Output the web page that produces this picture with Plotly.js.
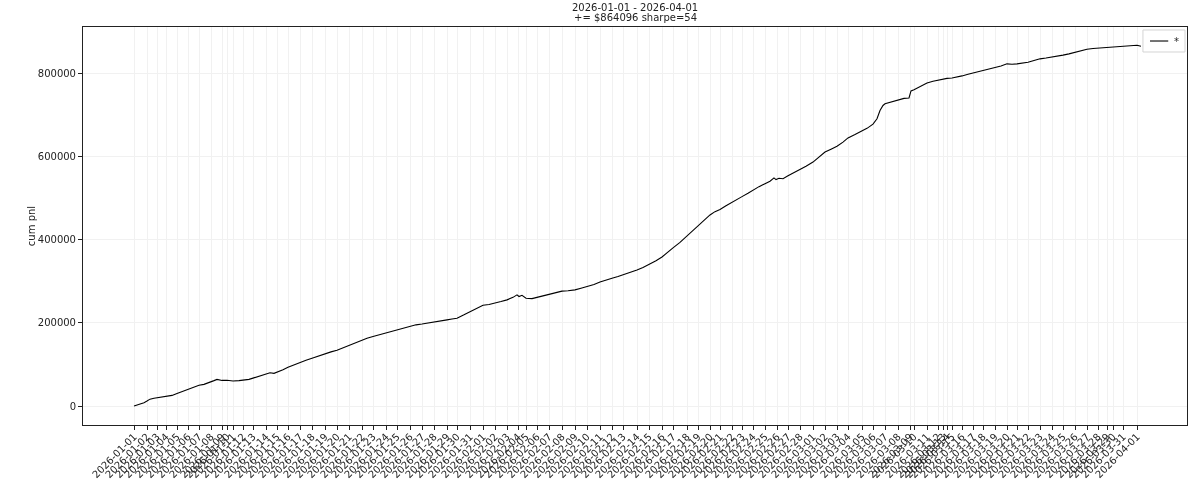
<!DOCTYPE html>
<html>
<head>
<meta charset="utf-8">
<script src="https://cdn.plot.ly/plotly-3.0.1.min.js"></script>
<style>
  html, body { margin: 0; padding: 0; background: #ffffff; }
  #chart { width: 1200px; height: 480px; }
  #chart svg { will-change: transform; }
</style>
</head>
<body>
<div id="chart"></div>
<script>
// Date boundaries: the sample index at which each day starts
const dateLabels = [
  "2026-01-01","2026-01-02","2026-01-03","2026-01-04","2026-01-05","2026-01-06","2026-01-07","2026-01-08","2026-01-09","2026-01-10",
  "2026-01-11","2026-01-12","2026-01-13","2026-01-14","2026-01-15","2026-01-16","2026-01-17","2026-01-18","2026-01-19","2026-01-20",
  "2026-01-21","2026-01-22","2026-01-23","2026-01-24","2026-01-25","2026-01-26","2026-01-27","2026-01-28","2026-01-29","2026-01-30",
  "2026-01-31","2026-02-01","2026-02-02","2026-02-03","2026-02-04","2026-02-05","2026-02-06","2026-02-07","2026-02-08","2026-02-09",
  "2026-02-10","2026-02-11","2026-02-12","2026-02-13","2026-02-14","2026-02-15","2026-02-16","2026-02-17","2026-02-18","2026-02-19",
  "2026-02-20","2026-02-21","2026-02-22","2026-02-23","2026-02-24","2026-02-25","2026-02-26","2026-02-27","2026-02-28","2026-03-01",
  "2026-03-02","2026-03-03","2026-03-04","2026-03-05","2026-03-06","2026-03-07","2026-03-08","2026-03-09","2026-03-10","2026-03-11",
  "2026-03-12","2026-03-13","2026-03-14","2026-03-15","2026-03-16","2026-03-17","2026-03-18","2026-03-19","2026-03-20","2026-03-21",
  "2026-03-22","2026-03-23","2026-03-24","2026-03-25","2026-03-26","2026-03-27","2026-03-28","2026-03-29","2026-03-30","2026-03-31",
  "2026-04-01"
];
const dateIdx = [
  0,130,230,320,430,540,650,770,880,930,
  990,1090,1190,1320,1430,1540,1660,1780,1910,2030,
  2150,2280,2390,2520,2630,2760,2880,3000,3130,3230,
  3360,3490,3610,3730,3840,3920,4030,4150,4280,4410,
  4530,4660,4780,4890,5030,5150,5280,5390,5530,5640,
  5760,5860,5980,6080,6190,6310,6430,6540,6660,6790,
  6910,7030,7140,7280,7390,7510,7640,7760,7800,7930,
  8040,8090,8130,8180,8280,8390,8490,8610,8730,8830,
  8940,9060,9180,9290,9410,9530,9640,9730,9790,9890,
  10030
];

// Cumulative pnl series (sample index, value)
const sampleIdx = [
  0,30,60,100,130,160,200,250,320,380,430,490,540,600,650,700,770,800,830,880,
  930,990,1050,1090,1150,1190,1260,1320,1360,1400,1430,1490,1540,1600,1660,1720,1780,1850,1910,1970,
  2030,2090,2150,2220,2280,2330,2390,2450,2520,2570,2630,2700,2760,2820,2880,2940,3000,3060,3130,3180,
  3230,3300,3360,3420,3490,3550,3610,3670,3730,3790,3830,3850,3880,3920,3980,4030,4090,4150,4220,4280,
  4340,4410,4470,4530,4600,4660,4720,4780,4840,4890,4960,5030,5090,5150,5220,5280,5330,5390,5460,5530,
  5580,5640,5700,5760,5810,5860,5920,5980,6030,6080,6140,6190,6250,6310,6360,6400,6420,6450,6490,6540,
  6600,6660,6720,6790,6850,6910,6970,7030,7090,7140,7210,7280,7330,7390,7430,7460,7490,7510,7580,7640,
  7700,7750,7770,7800,7860,7930,7990,8040,8090,8130,8180,8230,8280,8340,8390,8440,8490,8550,8610,8670,
  8730,8780,8830,8890,8940,9000,9060,9120,9180,9230,9290,9350,9410,9470,9530,9590,9640,9730,9790,9890,
  9960,10030,10070
];
const cumPnl = [
  0,2000,4500,8000,12000,16500,18500,20000,22500,25500,30000,35000,40000,46000,50000,52000,57000,61000,64000,61500,
  62000,60000,61000,61500,64000,67000,72000,78000,80000,78500,81000,87000,93000,99000,105000,110000,115000,121000,126000,130000,
  134000,140000,146000,152000,158000,163000,167000,171000,175000,178000,182000,187000,192000,195000,197000,199000,201000,204000,207000,209000,
  211000,219000,226000,234000,242000,244000,247000,251000,255000,261000,267000,263000,266000,259000,258000,261000,264000,268000,272000,276000,
  277000,279000,283000,287000,292000,298000,303000,307000,311000,315000,321000,327000,333000,340000,349000,358000,369000,380000,393000,408000,
  420000,432000,446000,459000,467000,472000,481000,490000,497000,503000,511000,519000,527000,534000,540000,548000,544000,547000,546000,553000,
  560000,567000,576000,586000,598000,610000,617000,624000,634000,644000,652000,661000,667000,677000,690000,710000,722000,726000,731000,735000,
  739000,740000,757000,760000,768000,776000,780000,783000,785000,787000,788000,790000,793000,797000,800000,803000,805000,808000,812000,817000,
  822000,821000,822000,824000,826000,830000,834000,836000,838000,841000,843000,846000,850000,853000,857000,859000,860000,862000,862500,864500,
  866000,866500,864096
];

const yTicks = [0, 200000, 400000, 600000, 800000];
const seriesName = "*";
const titleLines = ["2026-01-01 - 2026-04-01", "+= $864096 sharpe=54"];
const yTitle = "cum pnl";

const FONT = "DejaVu Sans, sans-serif";
const TXT = "#222222";

const trace = {
  x: sampleIdx,
  y: cumPnl,
  type: "scatter",
  mode: "lines",
  name: seriesName,
  line: { color: "#000000", width: 1.1 },
  hoverinfo: "skip",
  showlegend: false
};

// Legend box drawn in paper coordinates (matplotlib-style compact legend)
const legX0 = 0.9601, legX1 = 0.9982, legY0 = 0.9372, legY1 = 0.9925;
const legLineX0 = 0.9665, legLineX1 = 0.9830, legLineY = 0.9648;

const layout = {
  width: 1200,
  height: 480,
  margin: { l: 83, r: 13, t: 27, b: 55, pad: 0 },
  paper_bgcolor: "#ffffff",
  plot_bgcolor: "#ffffff",
  font: { family: FONT, size: 10, color: TXT },
  showlegend: false,
  xaxis: {
    range: [-510, 10530],
    tickmode: "array",
    tickvals: dateIdx,
    ticktext: dateLabels,
    tickangle: -45,
    ticks: "outside",
    ticklen: 4,
    tickwidth: 1,
    tickcolor: TXT,
    ticklabelstandoff: -3,
    tickfont: { family: FONT, size: 10, color: TXT },
    showgrid: true,
    gridcolor: "#f1f1f1",
    gridwidth: 1,
    zeroline: false,
    showline: true,
    mirror: true,
    linecolor: TXT,
    linewidth: 1,
    automargin: false
  },
  yaxis: {
    range: [-45600, 910500],
    tickmode: "array",
    tickvals: yTicks,
    ticktext: yTicks.map(v => String(v)),
    ticks: "outside",
    ticklen: 4,
    tickwidth: 1,
    tickcolor: TXT,
    tickfont: { family: FONT, size: 10, color: TXT },
    showgrid: true,
    gridcolor: "#f1f1f1",
    gridwidth: 1,
    zeroline: false,
    showline: true,
    mirror: true,
    linecolor: TXT,
    linewidth: 1,
    automargin: false,
    title: { text: yTitle, font: { family: FONT, size: 10, color: TXT }, standoff: 0 }
  },
  shapes: [
    { type: "rect", xref: "paper", yref: "paper", x0: legX0, x1: legX1, y0: legY0, y1: legY1,
      line: { color: "#d4d4d4", width: 1 }, fillcolor: "rgba(255,255,255,0.8)", layer: "above" },
    { type: "line", xref: "paper", yref: "paper", x0: legLineX0, x1: legLineX1, y0: legLineY, y1: legLineY,
      line: { color: "#000000", width: 1.1 }, layer: "above" }
  ],
  annotations: [
    { text: titleLines[0], xref: "paper", yref: "paper", x: 0.5, y: 1 + 20 / 398, xanchor: "center", yanchor: "middle",
      showarrow: false, font: { family: FONT, size: 10, color: TXT } },
    { text: titleLines[1], xref: "paper", yref: "paper", x: 0.5, y: 1 + 9 / 398, xanchor: "center", yanchor: "middle",
      showarrow: false, font: { family: FONT, size: 10, color: TXT } },
    { text: seriesName, xref: "paper", yref: "paper", x: 0.9905, y: legLineY, xanchor: "center", yanchor: "middle",
      showarrow: false, font: { family: FONT, size: 10, color: TXT } }
  ]
};

Plotly.newPlot("chart", [trace], layout, { displayModeBar: false, staticPlot: true });
</script>
</body>
</html>
